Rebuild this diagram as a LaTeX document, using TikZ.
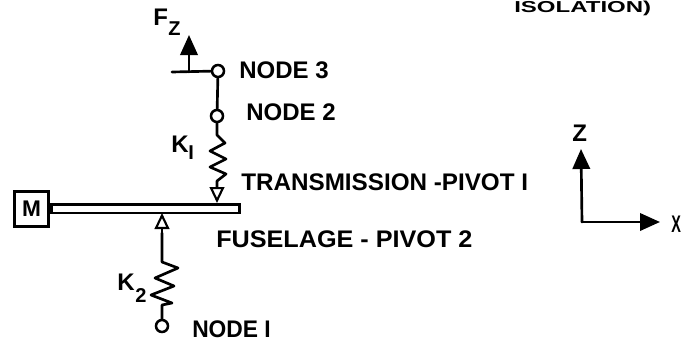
\documentclass[tikz,border=0pt]{standalone}
\usepackage{fontspec}
\setmainfont{Liberation Sans}
\usetikzlibrary{arrows.meta}
\tikzset{
  ink/.style={black,line width=2pt,line join=round,line cap=round},
  pin/.style={circle,draw=black,line width=1.9pt,fill=white,minimum size=9pt,inner sep=0pt},
  lab/.style={anchor=base west,inner sep=0pt,font=\fontsize{18pt}{20pt}\selectfont\bfseries,text=black},
  sublab/.style={lab,font=\fontsize{15pt}{17pt}\selectfont\bfseries},
  bigtip/.style={-{Triangle[length=15pt,width=13pt]}},
  opentip/.style={-{Triangle[open,length=12pt,width=11pt,line width=1.6pt]}}
}
\begin{document}
\begin{tikzpicture}[x=0.75pt,y=-0.75pt]
\useasboundingbox (0,0) rectangle (682,343);
\fill[white] (0,0) rectangle (682,343);
% title fragment
\node[lab] (iso) at (514,12) {\scalebox{1}[0.66]{ISOLATION)}};
% beam and mass
\node[draw=black,line width=2.1pt,minimum width=26pt,minimum height=26.5pt,inner sep=0pt,font=\fontsize{17pt}{18pt}\selectfont\bfseries] (M) at (31.5,209) {M};
\node[draw=black,line width=2pt,minimum width=141pt,minimum height=6.5pt,inner sep=0pt,anchor=west] (beam) at (50,208.5) {};
% upper system
\node[pin] (n3) at (218,71) {};
\node[pin] (n2) at (217,116) {};
\coordinate (barL) at (172,72);
\coordinate (fz0) at (189,72);
\coordinate (fz1) at (189,35);
\coordinate (top1) at (217,203);
\coordinate (s1a) at (217,135);
\coordinate (s1b) at (217,181);
\draw[ink] (barL) -- (n3);
\draw[ink,bigtip] (fz0) -- (fz1);
\draw[ink] (n3) -- (n2);
\draw[ink] (n2) -- (s1a) -- (225,143) -- (210,151) -- (226,159) -- (210,167) -- (226,174) -- (s1b) -- (217,187);
\draw[ink,opentip] (217,187) -- (top1);
% lower system
\node[pin] (n1) at (162,326) {};
\coordinate (tip2) at (162,213);
\coordinate (s2a) at (162,262);
\coordinate (s2b) at (162,305);
\draw[ink,opentip] (162,233) -- (tip2);
\draw[ink] (162,233) -- (s2a) -- (178,268) -- (155,278) -- (174,286) -- (151,295) -- (172,303) -- (s2b) -- (n1);
% axes
\coordinate (o) at (582,222);
\coordinate (zt) at (581,149);
\coordinate (xt) at (660,222);
\draw[ink,bigtip] (o) -- (zt);
\draw[ink,bigtip] (o) -- (xt);
% labels
\node[lab] (fl) at (153,25) {F};
\node[sublab] (fs) at (168,35) {Z};
\node[lab] (ln3) at (239,78) {NODE 3};
\node[lab] (ln2) at (246,120) {NODE 2};
\node[lab] (lk1) at (171,152) {K};
\node[sublab] (lk1s) at (188,159) {I};
\node[lab] (lt) at (241,190) {\scalebox{1.01}[1]{TRANSMISSION -PIVOT I}};
\node[lab] (lf) at (216,247) {\scalebox{1.05}[1]{FUSELAGE - PIVOT 2}};
\node[lab] (lk2) at (117,290) {K};
\node[sublab] (lk2s) at (135,302) {2};
\node[lab] (ln1) at (192,337) {\scalebox{0.95}[1]{NODE I}};
\node[lab] (lz) at (572,141) {Z};
\node[lab] (lx) at (671,232) {\scalebox{0.6}[1]{X}};
\end{tikzpicture}
\end{document}
